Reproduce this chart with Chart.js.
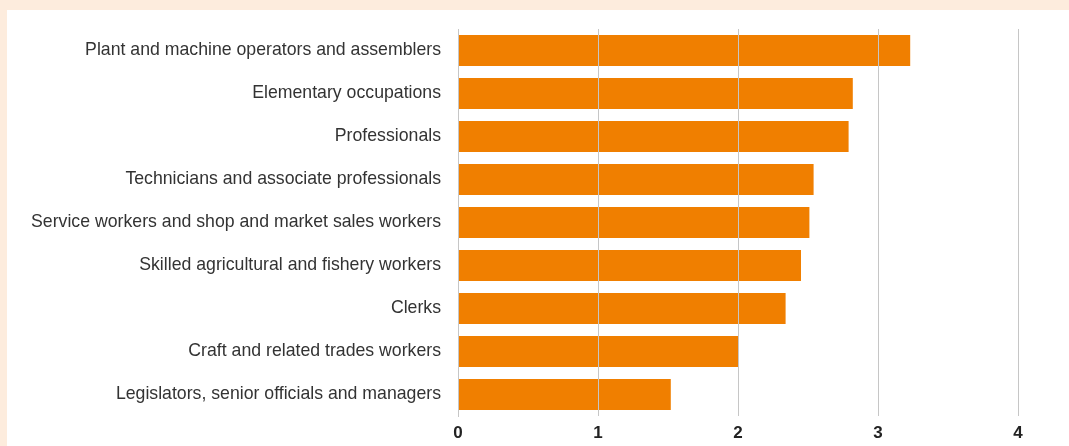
<!DOCTYPE html>
<html>
<head>
<meta charset="utf-8">
<script src="https://cdn.jsdelivr.net/npm/chart.js@4.4.1/dist/chart.umd.min.js"></script>
<style>
  html, body { margin: 0; padding: 0; background: #fdecdd; overflow: hidden; }
  #panel { position: absolute; left: 7px; top: 10px; width: 1062px; height: 436px; background: #ffffff; }
  #chart { display: block; }
</style>
</head>
<body>
<div id="panel"><canvas id="chart" width="1062" height="436"></canvas></div>
<script>
var categories = [
  "Plant and machine operators and assemblers",
  "Elementary occupations",
  "Professionals",
  "Technicians and associate professionals",
  "Service workers and shop and market sales workers",
  "Skilled agricultural and fishery workers",
  "Clerks",
  "Craft and related trades workers",
  "Legislators, senior officials and managers"
];
var values = [3.23, 2.82, 2.79, 2.54, 2.51, 2.45, 2.34, 2.0, 1.52];
var xTicks = [0, 1, 2, 3, 4];

var ctx = document.getElementById("chart").getContext("2d");
var myChart = new Chart(ctx, {
    type: 'bar',
    data: {
        labels: categories,
        datasets: [{
            data: values,
            backgroundColor: "#f07f00",
            borderWidth: 0,
            barPercentage: 1,
            categoryPercentage: 0.72
        }]
    },
    options: {
        indexAxis: 'y',
        responsive: false,
        animation: false,
        layout: { padding: { top: 19, right: 51, left: 0, bottom: 0 } },
        plugins: {
            legend: { display: false },
            tooltip: { enabled: false }
        },
        scales: {
            x: {
                min: 0,
                max: 4,
                afterBuildTicks: function(scale) {
                    scale.ticks = xTicks.map(function(v) { return { value: v }; });
                },
                afterFit: function(scale) {
                    scale.height = 30;
                    scale.paddingLeft = 0;
                    scale.paddingRight = 0;
                },
                grid: { z: 1, color: "#c6c6c6", lineWidth: 1, drawTicks: false },
                border: { display: false },
                ticks: {
                    padding: 7,
                    color: "#222222",
                    font: { family: "Liberation Sans, Arial, sans-serif", size: 17, weight: 'bold' }
                }
            },
            y: {
                afterFit: function(scale) {
                    scale.width = 451;
                    scale.paddingTop = 0;
                    scale.paddingBottom = 0;
                },
                grid: { display: false, drawTicks: false },
                border: { display: true, color: "#c6c6c6", width: 1 },
                ticks: {
                    padding: 17,
                    color: "#333333",
                    font: { family: "Liberation Sans, Arial, sans-serif", size: 17.7 }
                }
            }
        }
    }
});
</script>
</body>
</html>
